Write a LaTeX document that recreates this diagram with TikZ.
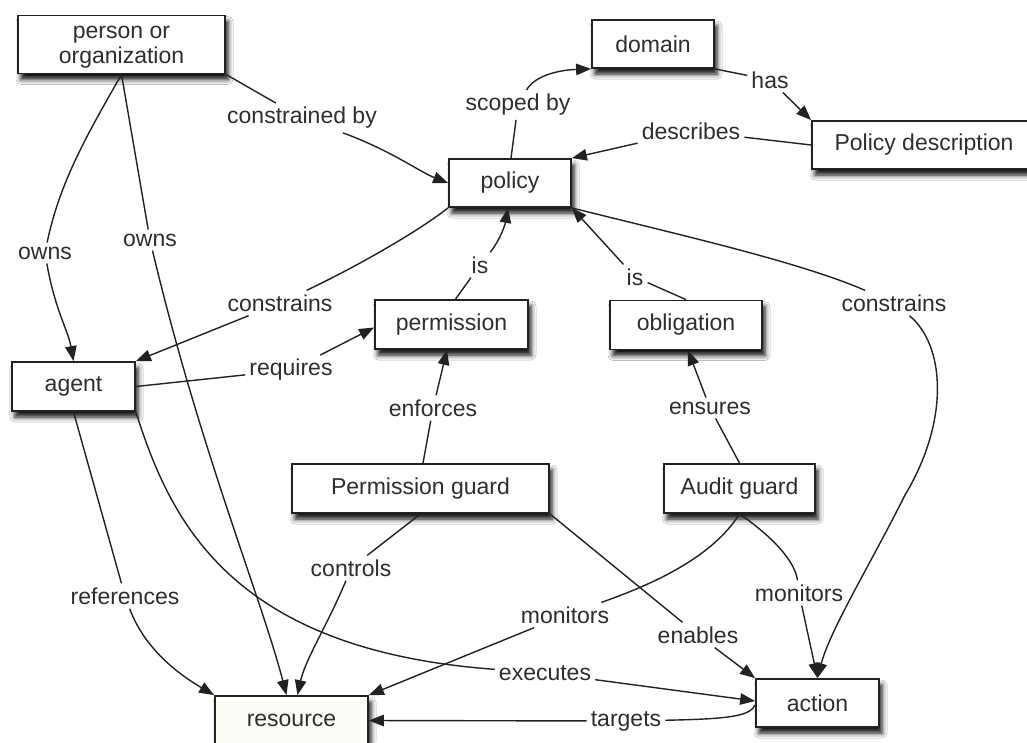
\documentclass[tikz,border=0pt]{standalone}
\usepackage{fontspec}
\setmainfont{Liberation Sans}
\usetikzlibrary{arrows.meta,shadows.blur}
\definecolor{ink}{HTML}{222222}
\definecolor{txt}{HTML}{2E2E2E}
\definecolor{cream}{HTML}{FDFCF7}
\begin{document}
\begin{tikzpicture}[x=1pt,y=-1pt,
  box/.style={draw=ink, line width=1.8pt, fill=white, inner sep=0pt,
    minimum height=49pt, text=txt, align=center,
    font=\fontsize{23}{25}\selectfont,
    blur shadow={shadow xshift=3pt, shadow yshift=-6pt,
      shadow blur radius=5pt, shadow opacity=95}},
  lab/.style={inner sep=4pt, text=txt, font=\fontsize{23}{24}\selectfont},
  conn/.style={draw=ink, line width=1.4pt},
  arr/.style={conn, -{Triangle[length=15pt,width=11.5pt]}}]

\useasboundingbox (0,0) rectangle (1027,742);
\clip (0,0) rectangle (1027,742);
\fill[white] (0,0) rectangle (1027,742);

% concepts
\node[box, minimum width=207pt, minimum height=58pt] (person) at (121.5,44.5) {\strut person or\\organization};
\node[box, minimum width=122pt, minimum height=48pt] (domain) at (653,44) {domain};
\node[box, minimum width=224pt, minimum height=48pt] (pdesc) at (924,145) {Policy description};
\node[box, minimum width=122pt, minimum height=48pt] (policy) at (510,183) {policy};
\node[box, minimum width=153pt] (permission) at (451.5,324.5) {permission};
\node[box, minimum width=152pt] (obligation) at (686,325) {obligation};
\node[box, minimum width=123pt] (agent) at (73.5,386.5) {agent};
\node[box, minimum width=257pt] (pguard) at (420.5,488.5) {Permission guard};
\node[box, minimum width=151pt] (aguard) at (739.5,488.5) {Audit guard};
\node[box, minimum width=123pt, minimum height=48pt] (action) at (817.5,703) {action};
\node[box, minimum width=153pt, fill=cream] (resource) at (291.5,720.5) {resource};

% relation labels
\node[lab] (l1) at (45,253) {owns};
\node[lab] (l2) at (150,240) {owns};
\node[lab] (l3) at (302,118) {constrained by};
\node[lab] (l4) at (518,105) {scoped by};
\node[lab] (l5) at (770,80) {has};
\node[lab] (l6) at (691,131) {describes};
\node[lab] (l7) at (280,303) {constrains};
\node[lab] (l8) at (480,265) {is};
\node[lab] (l9) at (635,277) {is};
\node[lab] (l10) at (894,303) {constrains};
\node[lab] (l11) at (291,370) {requires};
\node[lab] (l12) at (433,408) {enforces};
\node[lab] (l13) at (710,408) {ensures};
\node[lab] (l14) at (351,568) {controls};
\node[lab] (l15) at (125,596) {references};
\node[lab] (l16) at (545,673) {executes};
\node[lab] (l17) at (565,615) {monitors};
\node[lab] (l18) at (698,635) {enables};
\node[lab] (l19) at (799,593) {monitors};
\node[lab] (l20) at (626,721) {targets};

% person or organization
\draw[conn] (person.south) .. controls (90,130) and (60,180) .. (l1);
\draw[arr] (l1) .. controls (55,310) and (68,330) .. (agent.north);
\draw[conn] (person.south) -- (l2);
\draw[arr] (l2) .. controls (200,450) and (262,600) .. ([xshift=-5pt]resource.north);
\draw[conn] (person.south east) -- (l3);
\draw[arr] (l3) .. controls (390,150) and (420,172) .. (policy.west);

% policy and its neighbours
\draw[conn] ([xshift=1pt]policy.north) -- (l4);
\draw[arr] (l4) .. controls (535,75) and (560,70) .. (domain.south west);
\draw[conn] (domain.south east) -- (l5);
\draw[arr] (l5) -- (pdesc.north west);
\draw[conn] (pdesc.west) -- (l6);
\draw[arr] (l6) -- (policy.north east);
\draw[conn] (policy.south west) .. controls (420,230) and (360,265) .. (l7);
\draw[arr] (l7) -- (agent.north east);
\draw[conn] ([xshift=4pt]permission.north) -- (l8);
\draw[arr] (l8) .. controls (500,240) and (505,225) .. ([xshift=-2pt]policy.south);
\draw[conn] (obligation.north) -- (l9);
\draw[arr] (l9) -- (policy.south east);
\draw[conn] (policy.south east) .. controls (680,235) and (800,262) .. (l10);
\draw[arr] (l10) .. controls (945,345) and (950,420) .. (905,495)
  .. controls (870,565) and (830,630) .. (action.north);

% agent
\draw[conn] (agent.east) -- (l11);
\draw[arr] (l11) -- ([yshift=-3pt]permission.west);
\draw[conn] (agent.south) -- (l15);
\draw[arr] (l15) .. controls (145,650) and (180,675) .. (resource.north west);
\draw[conn] (agent.south east) .. controls (170,520) and (230,650) .. (l16);
\draw[arr] (l16) -- ([yshift=2pt]action.west);

% guards
\draw[conn] ([xshift=2.5pt]pguard.north) -- (l12);
\draw[arr] (l12) -- ([xshift=-4.5pt]permission.south);
\draw[conn] (aguard.north) -- (l13);
\draw[arr] (l13) -- ([xshift=2pt]obligation.south);
\draw[conn] (pguard.south) -- (l14);
\draw[arr] (l14) .. controls (330,620) and (305,660) .. ([xshift=6pt]resource.north);
\draw[conn] (pguard.south east) -- (l18);
\draw[arr] (l18) -- (action.north west);
\draw[conn] (aguard.south) .. controls (720,545) and (680,575) .. (l17);
\draw[arr] (l17) -- (resource.north east);
\draw[conn] (aguard.south) .. controls (770,535) and (795,560) .. (l19);
\draw[arr] (l19) -- (action.north);

% action
\draw[conn] ([yshift=-2pt]action.west) .. controls (750,716) and (730,719) .. (l20);
\draw[arr] (l20) -- (resource.east);
\end{tikzpicture}
\end{document}
